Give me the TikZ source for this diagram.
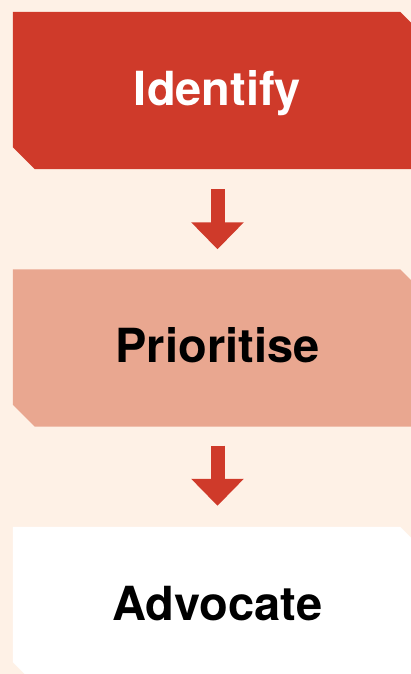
\documentclass[tikz,border=0pt]{standalone}
\usepackage{fontspec}
\setmainfont{TeX Gyre Heros}
\usetikzlibrary{arrows.meta,backgrounds}
\definecolor{cream}{HTML}{FEF1E6}
\definecolor{brick}{HTML}{CF3A2A}
\definecolor{salmon}{HTML}{E9A790}
\tikzset{
  stagebox/.style={minimum width=409pt, minimum height=157pt, inner sep=0pt,
    text height=35pt, text depth=5pt,
    font=\fontsize{47}{50}\selectfont\bfseries},
  flowarrow/.style={draw=brick, line width=14pt, line cap=butt,
    -{Triangle[width=51pt,length=27pt]}},
}
\newcommand\chamfill[2]{%
  \fill[#2] (#1.north west) -- ([xshift=-22pt]#1.north east) -- ([yshift=-22pt]#1.north east)
    -- (#1.south east) -- ([xshift=22pt]#1.south west) -- ([yshift=22pt]#1.south west) -- cycle;}
\begin{document}
\begin{tikzpicture}[x=1pt,y=1pt]
\clip (0,0) rectangle (411,674);
\node[stagebox, text=white] (b1) at (217.5,583.5) {Identify};
\node[stagebox, text=black] (b2) at (217.5,326) {Prioritise};
\node[stagebox, text=black] (b3) at (217.5,68.5) {Advocate};
\begin{scope}[on background layer]
  \fill[cream] (0,0) rectangle (411,674);
  \chamfill{b1}{brick}
  \chamfill{b2}{salmon}
  \chamfill{b3}{white}
\end{scope}
\draw[flowarrow] ([yshift=-20pt]b1.south) -- ([yshift=20pt]b2.north);
\draw[flowarrow] ([yshift=-19pt]b2.south) -- ([yshift=21pt]b3.north);
\end{tikzpicture}
\end{document}
